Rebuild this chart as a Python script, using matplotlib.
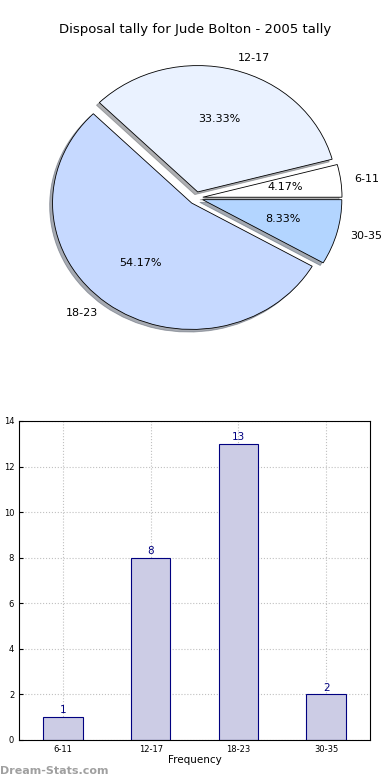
import numpy as np
import matplotlib
matplotlib.use("Agg")
import matplotlib.pyplot as plt

# disposal tally per range
ranges = ["6-11", "12-17", "18-23", "30-35"]
tally = [1, 8, 13, 2]
pie_colors = ["#ffffff", "#eaf2ff", "#c6d9ff", "#b3d5ff"]
title = "Disposal tally for Jude Bolton - 2005 tally"

fig = plt.figure(figsize=(3.9, 7.8), dpi=100)

# pie on top (old style, not forced round)
ax1 = fig.add_axes([0.0564, 0.5436, 0.892, 0.405])
ax1.pie(tally, labels=ranges, colors=pie_colors, explode=[0.05] * len(tally),
        autopct="%1.2f%%", shadow={"ox": -0.015, "oy": -0.015, "shade": 0.6},
        startangle=0, counterclock=True,
        labeldistance=1.1, pctdistance=0.6,
        wedgeprops=dict(edgecolor="black", linewidth=0.6),
        textprops=dict(fontsize=8))
ax1.set_aspect("auto")
ax1.set_xlim(-1.25, 1.25)
ax1.set_ylim(-1.25, 1.25)
fig.text(0.5, 0.962, title, ha="center", va="center", fontsize=9.5)

# bar chart below
ax2 = fig.add_axes([0.049, 0.0513, 0.9, 0.409])
x = np.arange(len(ranges))
bars = ax2.bar(x, tally, width=0.45, color="#ccccE5", edgecolor="#000080", linewidth=0.8, zorder=2)
for xi, v in zip(x, tally):
    ax2.text(xi, v + 0.08, str(v), ha="center", va="bottom", color="#000080", fontsize=7.5)
ax2.set_xlim(-0.5, 3.5)
ax2.set_ylim(0, 14)
ax2.set_xticks(x)
ax2.set_xticklabels(ranges)
ax2.set_yticks(range(0, 15, 2))
ax2.tick_params(labelsize=6, length=3, direction="in")
ax2.grid(True, linestyle=":", color="#c0c0c0", linewidth=0.8, zorder=0)
ax2.set_axisbelow(True)
ax2.set_xlabel("Frequency", fontsize=7.5, labelpad=1)
ax2.set_ylabel("Disposal tally", fontsize=7.5)
ax2.yaxis.set_label_coords(-0.055, 0.5)

fig.text(0.0, 0.005, "Dream-Stats.com", fontsize=8, color="#a0a0a0", fontweight="bold",
         ha="left", va="bottom")

fig.savefig("out.png", dpi=100)
